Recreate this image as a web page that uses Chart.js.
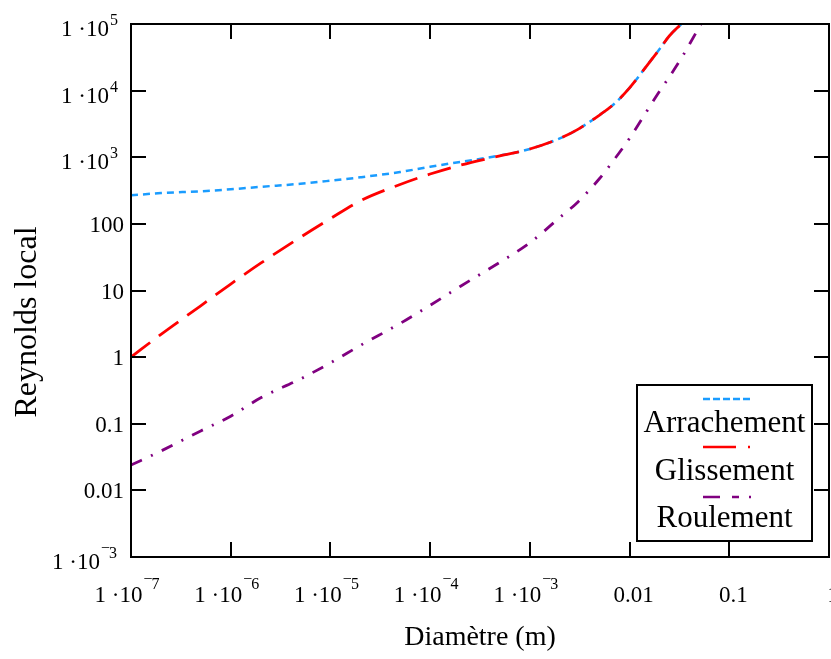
<!DOCTYPE html>
<html lang="fr">
<head>
<meta charset="utf-8">
<title>Reynolds local</title>
<script src="https://cdn.jsdelivr.net/npm/chart.js@4.4.1/dist/chart.umd.min.js"></script>
<style>
  html, body { margin: 0; padding: 0; background: #fff; }
  #wrap { position: relative; width: 831px; height: 659px; }
</style>
</head>
<body>
<div id="wrap"><canvas id="reChart"></canvas></div>
<script>
// --- valeurs ---
const diametres = [1e-7, 2e-7, 5e-7, 1e-6, 2e-6, 5e-6, 1e-5, 2e-5, 5e-5, 1e-4, 2e-4, 5e-4,
  1e-3, 2e-3, 3e-3, 5e-3, 7e-3, 1e-2, 1.5e-2, 2e-2, 2.5e-2, 3.3e-2, 4e-2, 5.2e-2];
const arrachement = [268, 290, 308, 330, 360, 400, 445, 500, 600, 720, 850, 1060,
  1330, 1920, 2600, 4300, 6300, 11000, 24000, 42000, 66000, 100000, null, null];
const glissement = [1, 2.2, 5.9, 12.5, 25.7, 63, 120, 222, 390, 560, 760, 1050,
  1330, 1920, 2600, 4300, 6300, 11000, 24000, 42000, 66000, 100000, null, null];
const roulement = [0.024, 0.039, 0.078, 0.13, 0.245, 0.47, 0.82, 1.5, 3.2, 6.0, 11.5, 26.5,
  52, 125, 210, 480, 920, 1930, 5000, 9800, 16000, 30500, 50000, 100000];

const xTicks = [1e-7, 1e-6, 1e-5, 1e-4, 1e-3, 1e-2, 1e-1, 1];
const xTickLabels = [['1 ·10', '−7'], ['1 ·10', '−6'], ['1 ·10', '−5'], ['1 ·10', '−4'],
  ['1 ·10', '−3'], ['0.01'], ['0.1'], ['1']];
const yTicks = [1e-3, 1e-2, 1e-1, 1, 10, 100, 1e3, 1e4, 1e5];
const yTickLabels = [['1 ·10', '−3'], ['0.01'], ['0.1'], ['1'], ['10'], ['100'],
  ['1 ·10', '3'], ['1 ·10', '4'], ['1 ·10', '5']];

const titreX = 'Diamètre (m)';
const titreY = 'Reynolds local';

const SERIF = '"Liberation Serif", "Times New Roman", serif';

function points(vals) {
  return diametres.map((d, i) => ({ x: d, y: vals[i] }));
}

// texte "1·10" + exposant
function drawPieces(ctx, parts, left, base, expBase) {
  ctx.font = '23px ' + SERIF;
  ctx.textAlign = 'left';
  ctx.fillText(parts[0], left, base);
  if (parts.length > 1) {
    const wb = ctx.measureText(parts[0]).width;
    ctx.font = '16px ' + SERIF;
    let e = parts[1];
    let xx = left + wb + 1;
    if (e[0] === '−') {
      ctx.fillText('−', xx, expBase - 5);
      xx += ctx.measureText('−').width - 1;
      e = e.slice(1);
    }
    ctx.fillText(e, xx, expBase);
  }
}
function pieceWidth(ctx, parts) {
  ctx.font = '23px ' + SERIF;
  let w = ctx.measureText(parts[0]).width;
  if (parts.length > 1) {
    ctx.font = '16px ' + SERIF;
    w += ctx.measureText(parts[1]).width;
  }
  return w;
}

const cadrePlugin = {
  id: 'cadre',
  afterDraw(chart) {
    const { ctx, chartArea: a } = chart;
    const sx = chart.scales.x, sy = chart.scales.y;
    ctx.save();
    ctx.fillStyle = '#000';
    ctx.strokeStyle = '#000';
    ctx.lineWidth = 2;
    ctx.setLineDash([]);

    // cadre + graduations vers l'intérieur
    ctx.strokeRect(a.left, a.top, a.right - a.left, a.bottom - a.top);
    ctx.beginPath();
    xTicks.forEach(v => {
      const px = Math.round(sx.getPixelForValue(v));
      ctx.moveTo(px, a.bottom); ctx.lineTo(px, a.bottom - 15);
      ctx.moveTo(px, a.top); ctx.lineTo(px, a.top + 15);
    });
    yTicks.forEach(v => {
      const py = Math.round(sy.getPixelForValue(v));
      ctx.moveTo(a.left, py); ctx.lineTo(a.left + 15, py);
      ctx.moveTo(a.right, py); ctx.lineTo(a.right - 15, py);
    });
    ctx.stroke();

    // étiquettes de l'axe x
    xTicks.forEach((v, i) => {
      const px = sx.getPixelForValue(v);
      const parts = xTickLabels[i];
      const w = pieceWidth(ctx, parts);
      const off = parts.length > 1 ? -4 : 4;
      drawPieces(ctx, parts, px - w / 2 + off, a.bottom + 45, a.bottom + 32);
    });

    // étiquettes de l'axe y
    yTicks.forEach((v, i) => {
      const py = sy.getPixelForValue(v);
      const parts = yTickLabels[i];
      const w = pieceWidth(ctx, parts);
      if (parts.length > 1) {
        drawPieces(ctx, parts, a.left - 14 - w, py + 12, py + 1);
      } else {
        drawPieces(ctx, parts, a.left - 7 - w, py + 8, py + 8);
      }
    });

    // titres des axes
    ctx.textAlign = 'center';
    ctx.textBaseline = 'alphabetic';
    ctx.font = '28px ' + SERIF;
    ctx.fillText(titreX, (a.left + a.right) / 2, a.bottom + 88);
    ctx.save();
    ctx.font = '32px ' + SERIF;
    ctx.translate(36, 322);
    ctx.rotate(-Math.PI / 2);
    ctx.fillText(titreY, 0, 0);
    ctx.restore();

    // légende
    const lw = 175, lh = 156;
    const lx = a.right - 17 - lw, ly = a.bottom - 16 - lh;
    ctx.fillStyle = '#fff';
    ctx.fillRect(lx, ly, lw, lh);
    ctx.strokeStyle = '#000';
    ctx.lineWidth = 2;
    ctx.strokeRect(lx, ly, lw, lh);
    const sampleY = [14, 62, 112];
    const textY = [47, 95, 142];
    chart.data.datasets.forEach((ds, i) => {
      ctx.strokeStyle = ds.borderColor;
      ctx.lineWidth = 2.5;
      ctx.setLineDash(ds.legendDash);
      ctx.beginPath();
      ctx.moveTo(lx + 66, ly + sampleY[i]);
      ctx.lineTo(lx + 116, ly + sampleY[i]);
      ctx.stroke();
      ctx.setLineDash([]);
      ctx.fillStyle = '#000';
      ctx.font = '31px ' + SERIF;
      ctx.textAlign = 'center';
      ctx.fillText(ds.label, lx + lw / 2, ly + textY[i]);
    });
    ctx.restore();
  }
};

new Chart(document.getElementById('reChart'), {
  type: 'line',
  data: {
    datasets: [
      {
        label: 'Arrachement',
        data: points(arrachement),
        borderColor: '#1a9cff',
        borderWidth: 2.5,
        borderDash: [7, 5],
        legendDash: [7, 3],
        order: 2
      },
      {
        label: 'Glissement',
        data: points(glissement),
        borderColor: '#ff0000',
        borderWidth: 2.8,
        borderDash: [24, 11],
        legendDash: [33, 12, 2, 12],
        order: 1
      },
      {
        label: 'Roulement',
        data: points(roulement),
        borderColor: '#800080',
        borderWidth: 2.8,
        borderDash: [12, 10, 2, 10],
        legendDash: [17, 12, 7, 10, 2, 10],
        order: 0
      }
    ]
  },
  options: {
    responsive: true,
    maintainAspectRatio: false,
    animation: false,
    layout: { padding: { left: 131, top: 24, right: 2, bottom: 102 } },
    elements: {
      point: { radius: 0 },
      line: { cubicInterpolationMode: 'monotone', fill: false }
    },
    plugins: {
      legend: { display: false },
      tooltip: { enabled: false }
    },
    scales: {
      x: { type: 'logarithmic', min: 1e-7, max: 1, display: false },
      y: { type: 'logarithmic', min: 1e-3, max: 1e5, display: false }
    }
  },
  plugins: [cadrePlugin]
});
</script>
</body>
</html>
